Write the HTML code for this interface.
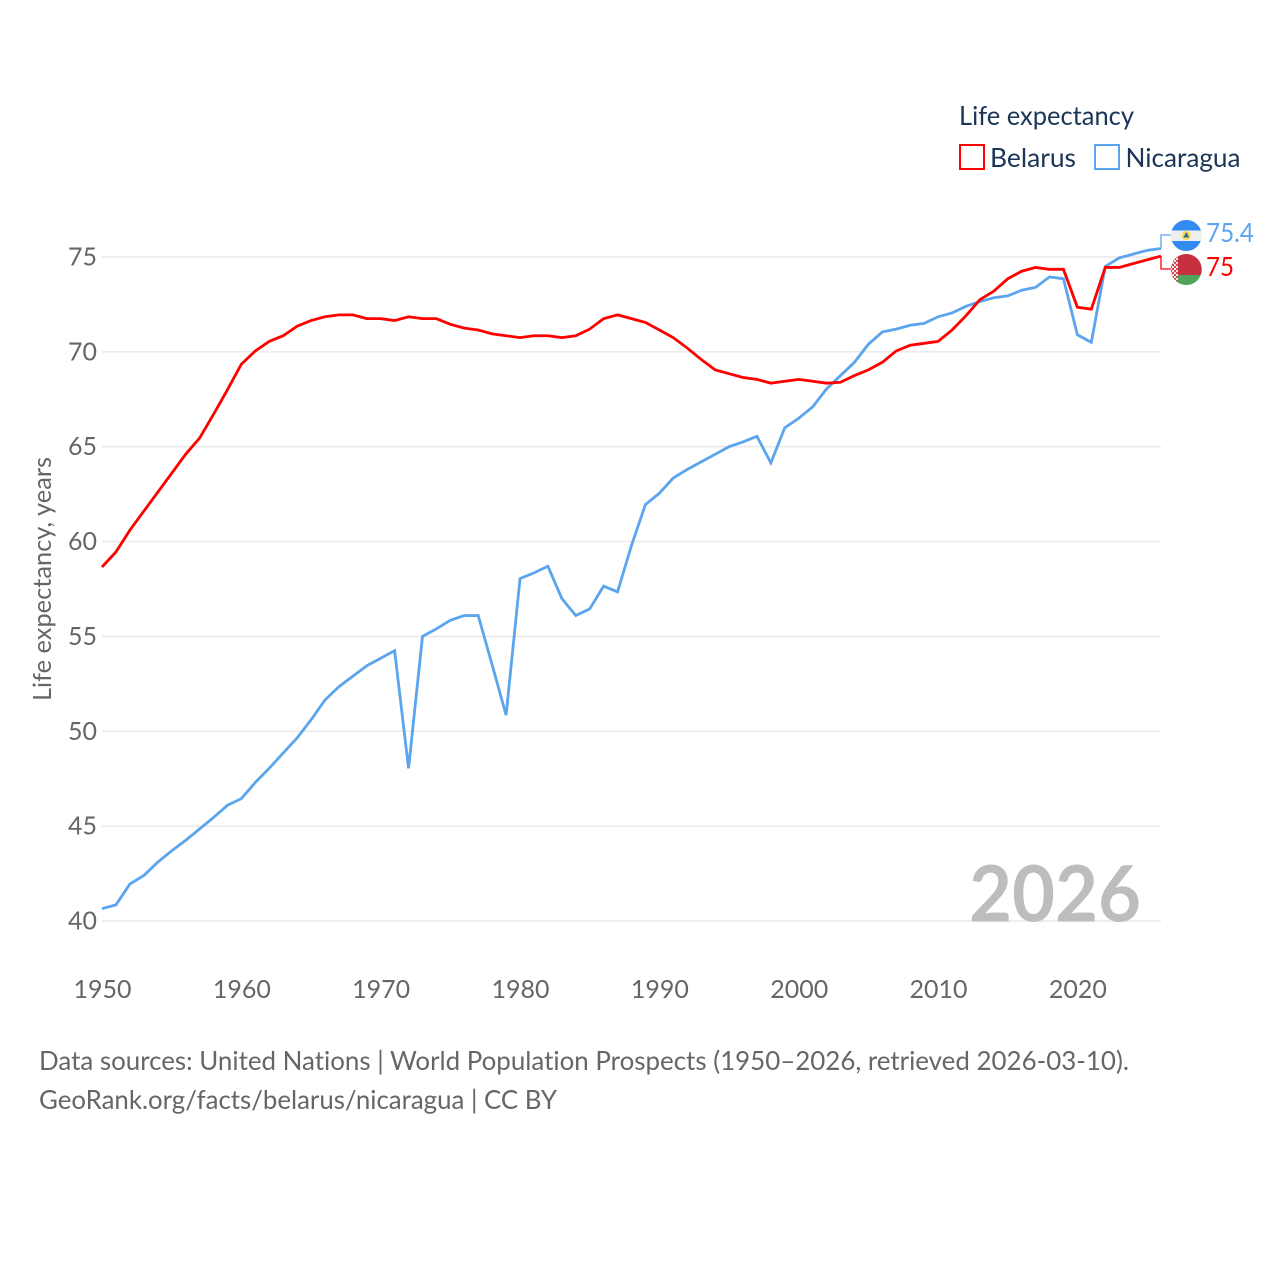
<!DOCTYPE html>
<html lang="en">
<head>
<meta charset="utf-8">
<title>Life expectancy: Belarus and Nicaragua</title>
<style>
html,body{margin:0;padding:0;background:#fff;}
svg{display:block;}
text{font-family:"Lato","Carlito","Liberation Sans",sans-serif;font-variant-ligatures:none;}
</style>
</head>
<body>
<svg id="chart" xmlns="http://www.w3.org/2000/svg" width="1280" height="1280" viewBox="0 0 1280 1280">
  <defs>
    <clipPath id="clip-nic"><circle cx="1186.3" cy="235.5" r="15.5"/></clipPath>
    <clipPath id="clip-blr"><circle cx="1186.3" cy="269.5" r="15.5"/></clipPath>
    <pattern id="blr-orn" width="4" height="4" patternUnits="userSpaceOnUse">
      <rect width="4" height="4" fill="#f3e3e3"/>
      <rect width="2" height="2" fill="#cf4a55"/>
      <rect x="2" y="2" width="2" height="2" fill="#cf4a55"/>
    </pattern>
  </defs>
  <rect x="0" y="0" width="1280" height="1280" fill="#ffffff"/>
  <g id="grid"></g>
  <g id="ytick-labels"></g>
  <g id="xtick-labels"></g>
  <text transform="translate(51,701) rotate(-90)" font-size="25" fill="#666666" textLength="244" lengthAdjust="spacingAndGlyphs">Life expectancy, years</text>
  <text x="969" y="921.5" font-size="78" font-weight="700" fill="#bdbdbd" textLength="172" lengthAdjust="spacingAndGlyphs">2026</text>
  <g id="series"></g>

  <path id="conn-nic" fill="none" stroke="#5ba4ee" stroke-width="1.3"/>
  <path id="conn-blr" fill="none" stroke="#ff0000" stroke-width="1.3"/>

  <g clip-path="url(#clip-nic)">
    <rect x="1170" y="219" width="33" height="34" fill="#eeeeee"/>
    <rect x="1170" y="219" width="33" height="11.5" fill="#338af3"/>
    <rect x="1170" y="241" width="33" height="12" fill="#338af3"/>
    <circle cx="1186.3" cy="235.5" r="4.5" fill="#ffda44"/>
    <path d="M1186.3 232L1189.3 237.5H1183.3Z" fill="#2f6f9f"/>
  </g>
  <g clip-path="url(#clip-blr)">
    <rect x="1170" y="253" width="33" height="22" fill="#c7303f"/>
    <rect x="1170" y="275" width="33" height="11" fill="#4fa55a"/>
    <rect x="1170" y="253" width="8" height="33" fill="url(#blr-orn)"/>
  </g>

  <text id="end-nic" x="1206" y="242" font-size="26" fill="#5ba4ee" textLength="48" lengthAdjust="spacingAndGlyphs">75.4</text>
  <text id="end-blr" x="1206" y="276" font-size="26" fill="#ff0000" textLength="28" lengthAdjust="spacingAndGlyphs">75</text>

  <g>
    <text x="959" y="125" font-size="26" fill="#1a3557" textLength="175" lengthAdjust="spacingAndGlyphs">Life expectancy</text>
    <rect x="960" y="145" width="24" height="24" fill="none" stroke="#ff0000" stroke-width="2"/>
    <text x="990" y="167" font-size="26" fill="#1a3557" textLength="86" lengthAdjust="spacingAndGlyphs">Belarus</text>
    <rect x="1095" y="145" width="24" height="24" fill="none" stroke="#5ba4ee" stroke-width="2"/>
    <text x="1125.5" y="167" font-size="26" fill="#1a3557" textLength="115" lengthAdjust="spacingAndGlyphs">Nicaragua</text>
  </g>

  <text x="39" y="1070" font-size="26" fill="#666666" textLength="1090" lengthAdjust="spacingAndGlyphs">Data sources: United Nations | World Population Prospects (1950–2026, retrieved 2026-03-10).</text>
  <text x="39" y="1109" font-size="26" fill="#666666" textLength="518" lengthAdjust="spacingAndGlyphs">GeoRank.org/facts/belarus/nicaragua | CC BY</text>
</svg>
<script>
const startYear = 1950;
const belarus = [58.66,59.45,60.6,61.6,62.6,63.6,64.6,65.45,66.7,68.0,69.35,70.05,70.55,70.85,71.35,71.65,71.85,71.95,71.95,71.75,71.75,71.65,71.85,71.75,71.75,71.45,71.25,71.15,70.95,70.85,70.75,70.85,70.85,70.75,70.85,71.2,71.75,71.95,71.75,71.55,71.15,70.75,70.2,69.6,69.05,68.85,68.65,68.55,68.35,68.45,68.55,68.45,68.35,68.4,68.75,69.05,69.45,70.05,70.35,70.45,70.55,71.15,71.9,72.75,73.2,73.85,74.25,74.45,74.35,74.35,72.35,72.25,74.45,74.45,74.65,74.85,75.05];
const nicaragua = [40.65,40.85,41.95,42.4,43.1,43.7,44.25,44.85,45.45,46.1,46.45,47.3,48.05,48.85,49.65,50.6,51.65,52.35,52.9,53.45,53.85,54.25,48.05,55.0,55.4,55.85,56.1,56.1,53.5,50.85,58.05,58.35,58.7,57.0,56.1,56.45,57.65,57.35,59.8,61.95,62.55,63.35,63.8,64.2,64.6,65.0,65.25,65.55,64.15,66.0,66.5,67.1,68.05,68.75,69.45,70.4,71.05,71.2,71.4,71.5,71.85,72.05,72.4,72.65,72.85,72.95,73.25,73.4,73.95,73.85,70.9,70.5,74.5,74.95,75.15,75.35,75.45];
const yTicks = [40,45,50,55,60,65,70,75];
const xTicks = [1950,1960,1970,1980,1990,2000,2010,2020];

const NS = 'http://www.w3.org/2000/svg';
const plot = {left:102, right:1161, y40:921, y75:257};
const xScale = function(year){ return plot.left + (year - 1950) * (plot.right - plot.left) / 76; };
const yScale = function(v){ return plot.y40 + (v - 40) * (plot.y75 - plot.y40) / 35; };

const gridG = document.getElementById('grid');
const yG = document.getElementById('ytick-labels');
const xG = document.getElementById('xtick-labels');
const seriesG = document.getElementById('series');

yTicks.forEach(function(t){
  const line = document.createElementNS(NS,'line');
  
  
  line.setAttribute('x1', plot.left);
  line.setAttribute('x2', plot.right);
  line.setAttribute('y1', yScale(t));
  line.setAttribute('y2', yScale(t));
  line.setAttribute('stroke', '#e8e8e8');
  line.setAttribute('stroke-width', '1.4');
  gridG.appendChild(line);

  const label = document.createElementNS(NS,'text');
  
  
  label.setAttribute('x', 68);
  label.setAttribute('y', yScale(t) + 8.5);
  label.setAttribute('font-size', '25.5');
  label.setAttribute('fill', '#666666');
  label.setAttribute('textLength', '29');
  label.setAttribute('lengthAdjust', 'spacingAndGlyphs');
  label.textContent = String(t);
  yG.appendChild(label);
});

xTicks.forEach(function(t){
  const label = document.createElementNS(NS,'text');
  
  
  label.setAttribute('x', xScale(t) - 28.5);
  label.setAttribute('y', 998);
  label.setAttribute('font-size', '25.5');
  label.setAttribute('fill', '#666666');
  label.setAttribute('textLength', '58');
  label.setAttribute('lengthAdjust', 'spacingAndGlyphs');
  label.textContent = String(t);
  xG.appendChild(label);
});

function pathFor(values){
  return values.map(function(v,i){
    return (i ? 'L' : 'M') + xScale(startYear + i).toFixed(2) + ' ' + yScale(v).toFixed(2);
  }).join('');
}

const nicLine = document.createElementNS(NS,'path');


nicLine.setAttribute('d', pathFor(nicaragua));
nicLine.setAttribute('fill', 'none');
nicLine.setAttribute('stroke', '#5ba4ee');
nicLine.setAttribute('stroke-width', '2.8');
nicLine.setAttribute('stroke-linejoin', 'miter');
seriesG.appendChild(nicLine);

const blrLine = document.createElementNS(NS,'path');


blrLine.setAttribute('d', pathFor(belarus));
blrLine.setAttribute('fill', 'none');
blrLine.setAttribute('stroke', '#ff0000');
blrLine.setAttribute('stroke-width', '2.8');
blrLine.setAttribute('stroke-linejoin', 'miter');
seriesG.appendChild(blrLine);

const lastNic = yScale(nicaragua[nicaragua.length - 1]);
const lastBlr = yScale(belarus[belarus.length - 1]);
document.getElementById('conn-nic').setAttribute('d', 'M' + plot.right + ' ' + lastNic + 'V235H1172');
document.getElementById('conn-blr').setAttribute('d', 'M' + plot.right + ' ' + lastBlr + 'V269H1172');
</script>
</body>
</html>
